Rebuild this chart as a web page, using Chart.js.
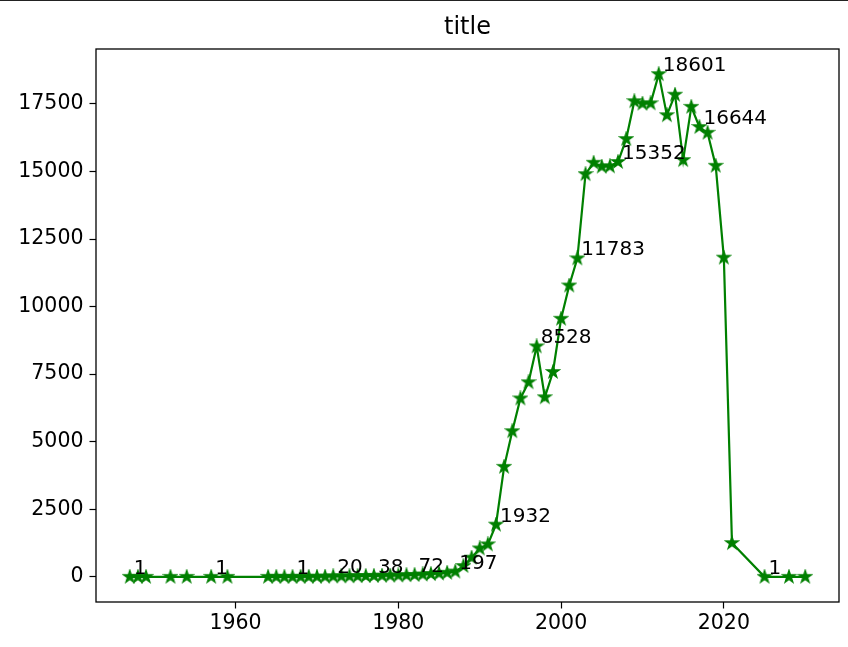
<!DOCTYPE html>
<html lang="en">

<head>
    <meta charset="UTF-8">
    <script src="https://cdn.jsdelivr.net/npm/chart.js"></script>
    <title>title</title>
    <style>
        body { margin: 0; background: #fff; }
    </style>
</head>

<body>
    <canvas id="chart" width="848" height="647"></canvas>

    <script>
        // data
        const years = [1947, 1948, 1949, 1952, 1954, 1957, 1959,
            1964, 1965, 1966, 1967, 1968, 1969, 1970, 1971, 1972, 1973, 1974, 1975, 1976, 1977, 1978, 1979,
            1980, 1981, 1982, 1983, 1984, 1985, 1986, 1987, 1988, 1989, 1990, 1991, 1992, 1993, 1994, 1995,
            1996, 1997, 1998, 1999, 2000, 2001, 2002, 2003, 2004, 2005, 2006, 2007, 2008, 2009, 2010, 2011,
            2012, 2013, 2014, 2015, 2016, 2017, 2018, 2019, 2020, 2021, 2025, 2028, 2030];
        const counts = [1, 1, 1, 1, 1, 1, 1,
            1, 2, 1, 1, 3, 4, 6, 9, 20, 22, 25, 29, 33, 38, 44, 49,
            55, 63, 72, 88, 105, 125, 150, 197, 400, 710, 1050, 1200, 1932, 4070, 5390, 6600,
            7200, 8528, 6645, 7580, 9550, 10780, 11783, 14900, 15320, 15180, 15190, 15352, 16200, 17600, 17510, 17520,
            18601, 17080, 17840, 15420, 17390, 16644, 16430, 15210, 11810, 1250, 1, 1, 1];
        const xTicks = [1960, 1980, 2000, 2020];
        const yTicks = [0, 2500, 5000, 7500, 10000, 12500, 15000, 17500];
        const labelEvery = 5;

        const green = '#008000';
        const tickFont = { family: 'DejaVu Sans', size: 20.5 };

        // matplotlib style filled star marker
        function makeStar() {
            const c = document.createElement('canvas');
            c.width = 16; c.height = 16;
            const g = c.getContext('2d');
            const R = 6.6, r = R * 0.382;
            g.beginPath();
            for (let i = 0; i < 10; i++) {
                const a = -Math.PI / 2 + i * Math.PI / 5;
                const rad = i % 2 === 0 ? R : r;
                g.lineTo(8 + rad * Math.cos(a), 8 + rad * Math.sin(a));
            }
            g.closePath();
            g.fillStyle = green;
            g.fill();
            g.strokeStyle = green;
            g.lineWidth = 1.3;
            g.stroke();
            return c;
        }

        const points = years.map((y, i) => ({ x: y, y: counts[i] }));

        const labelsPlugin = {
            id: 'pointLabels',
            afterDatasetsDraw(chart) {
                const ctx = chart.ctx;
                const meta = chart.getDatasetMeta(0);
                ctx.save();
                ctx.font = '20px "DejaVu Sans"';
                ctx.fillStyle = '#000';
                ctx.textAlign = 'left';
                ctx.textBaseline = 'alphabetic';
                meta.data.forEach((p, i) => {
                    if (i % labelEvery === 0) ctx.fillText(String(counts[i]), p.x + 4, p.y - 3);
                });
                ctx.restore();
            },
            afterDraw(chart) {
                const ctx = chart.ctx;
                const a = chart.chartArea;
                ctx.save();
                ctx.strokeStyle = '#000';
                ctx.lineWidth = 1.3;
                ctx.strokeRect(a.left, a.top, a.right - a.left, a.bottom - a.top);
                ctx.fillStyle = '#222';
                ctx.fillRect(0, 0, chart.width, 1);
                ctx.restore();
            }
        };

        new Chart('chart', {
            type: 'line',
            data: {
                datasets: [{
                    data: points,
                    borderColor: green,
                    borderWidth: 2.2,
                    pointStyle: makeStar(),
                    pointBackgroundColor: green,
                    pointBorderColor: green,
                    tension: 0
                }]
            },
            options: {
                responsive: false,
                animation: false,
                layout: { padding: { top: 0, right: 9, left: 0, bottom: 0 } },
                scales: {
                    x: {
                        type: 'linear',
                        min: 1942.85,
                        max: 2034.15,
                        afterBuildTicks: s => { s.ticks = xTicks.map(v => ({ value: v })); },
                        afterFit: s => { s.height = 45; },
                        grid: { display: true, drawOnChartArea: false, drawTicks: true, tickLength: 6.5, color: '#000', tickWidth: 1.2 },
                        border: { display: false },
                        ticks: { color: '#000', font: tickFont, padding: 3, maxRotation: 0, callback: v => String(v) }
                    },
                    y: {
                        min: -930,
                        max: 19531,
                        afterBuildTicks: s => { s.ticks = yTicks.map(v => ({ value: v })); },
                        afterFit: s => { s.width = 96; },
                        grid: { display: true, drawOnChartArea: false, drawTicks: true, tickLength: 6.5, color: '#000', tickWidth: 1.2 },
                        border: { display: false },
                        ticks: { color: '#000', font: tickFont, padding: 6, callback: v => String(v) }
                    }
                },
                plugins: {
                    legend: { display: false },
                    tooltip: { enabled: false },
                    title: {
                        display: true,
                        text: 'title',
                        fullSize: false,
                        color: '#000',
                        font: { family: 'DejaVu Sans', size: 24, weight: 'normal', lineHeight: 1 },
                        padding: { top: 16, bottom: 9 }
                    }
                }
            },
            plugins: [labelsPlugin]
        });
    </script>
</body>

</html>
